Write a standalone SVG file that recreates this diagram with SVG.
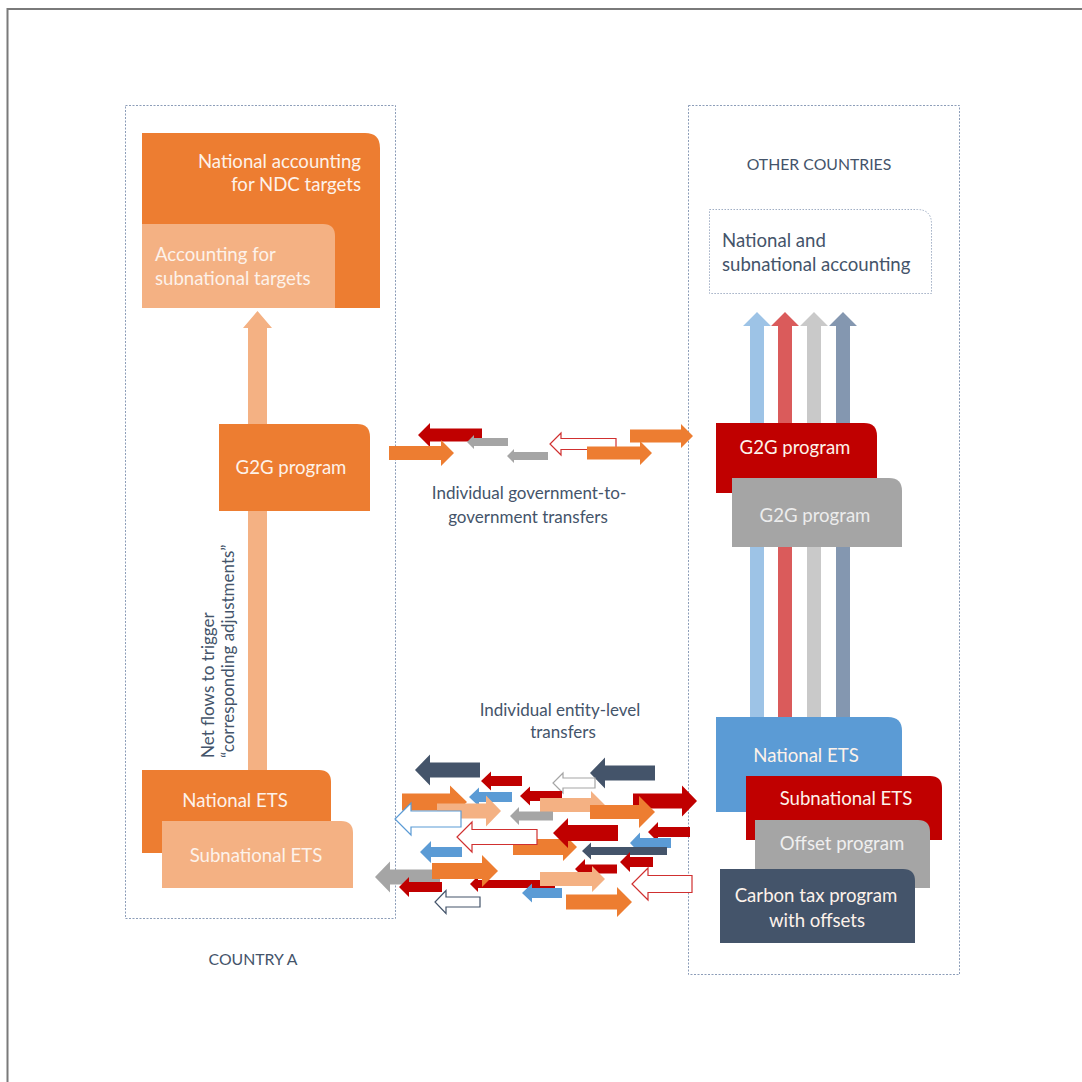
<svg xmlns="http://www.w3.org/2000/svg" width="1082" height="1082" viewBox="0 0 1082 1082">
<style>
.t{font-family:Lato,"Open Sans","Liberation Sans",sans-serif;}
.lbl{font-size:18.6px;fill:#fdf2ea;}
.ann{font-size:17px;fill:#44546A;}
.cap{font-size:15.8px;fill:#44546A;}
.dash{fill:none;stroke:#8C9DB8;stroke-width:1;stroke-dasharray:2 1.5;}
.or{fill:#ED7D31;}
.lo{fill:#F4B183;}
.rd{fill:#C00000;}
.gy{fill:#A5A5A5;}
.sl{fill:#44546A;}
.bl{fill:#5B9BD5;}
.oRd{fill:#fff;stroke:#D03030;stroke-width:1.2;}
.oBl{fill:#fff;stroke:#5B9BD5;stroke-width:1.2;}
.oGy{fill:#fff;stroke:#A5A5A5;stroke-width:1.2;}
.oSl{fill:#fff;stroke:#44546A;stroke-width:1.2;}
</style>
<rect width="1082" height="1082" fill="#fff"/>
<path d="M7.5 1082 V9 H1082" fill="none" stroke="#7a7a7a" stroke-width="2"/>

<!-- containers -->
<g id="countryA">
<rect class="dash" x="125.5" y="105.5" width="270" height="813"/>
<text class="t cap" x="253" y="965" text-anchor="middle">COUNTRY A</text>
</g>
<g id="otherCountries">
<rect class="dash" x="688.5" y="105.5" width="271" height="869"/>
<text class="t cap" x="819" y="170" text-anchor="middle">OTHER COUNTRIES</text>
</g>

<!-- connectors (vertical flows) -->
<g id="connectors">
<path fill="#F4B183" d="M248 770 V328 H243 L257.5 311 L272 328 H267 V770 Z"/>
<path fill="#9DC3E6" d="M750 717 V326 H743 L757 312 L771 326 H764 V717 Z"/>
<path fill="#DA5B5B" d="M778 717 V326 H771 L785 312 L799 326 H792 V717 Z"/>
<path fill="#C9C9C9" d="M807 717 V326 H800 L814 312 L828 326 H821 V717 Z"/>
<path fill="#8497B0" d="M836 717 V326 H829 L843 312 L857 326 H850 V717 Z"/>
</g>

<!-- Country A nodes -->
<g id="nationalAccounting">
<path class="or" d="M142 133 H365 Q380 133 380 148 V308 H142 Z"/>
<text class="t lbl" x="361" y="168" text-anchor="end">National accounting</text>
<text class="t lbl" x="361" y="191" text-anchor="end">for NDC targets</text>
</g>
<g id="subnationalAccounting">
<path class="lo" d="M142 224 H323 Q335 224 335 236 V308 H142 Z"/>
<text class="t lbl" x="155" y="261">Accounting for</text>
<text class="t lbl" x="155" y="285">subnational targets</text>
</g>
<g id="g2gA">
<path class="or" d="M219 424 H357 Q370 424 370 437 V511 H219 Z"/>
<text class="t lbl" x="291" y="474" text-anchor="middle">G2G program</text>
</g>
<g id="netFlowsLabel">
<text class="t ann" transform="translate(214,758) rotate(-90)">Net flows to trigger</text>
<text class="t ann" transform="translate(234,758) rotate(-90)">“corresponding adjustments”</text>
</g>
<g id="nationalEtsA">
<path class="or" d="M142 770 H319 Q331 770 331 782 V853 H142 Z"/>
<text class="t lbl" x="235" y="807" text-anchor="middle">National ETS</text>
</g>
<g id="subnationalEtsA">
<path class="lo" d="M162 821 H341 Q353 821 353 833 V888 H162 Z"/>
<text class="t lbl" x="256" y="862" text-anchor="middle">Subnational ETS</text>
</g>

<!-- Other countries nodes -->
<g id="otherAccounting">
<path d="M709.5 209.5 H917 Q931.5 209.5 931.5 224 V293.5 H709.5 Z" fill="#fff" stroke="#A0AEC4" stroke-width="1" stroke-dasharray="1.5 1.5"/>
<text class="t ann" x="722" y="247" style="font-size:18.6px">National and</text>
<text class="t ann" x="722" y="271" style="font-size:18.6px">subnational accounting</text>
</g>
<g id="g2gRed">
<path class="rd" d="M716 423 H864 Q877 423 877 436 V493 H716 Z"/>
<text class="t lbl" x="795" y="454" text-anchor="middle">G2G program</text>
</g>
<g id="g2gGray">
<path class="gy" d="M732 478 H889 Q902 478 902 491 V547 H732 Z"/>
<text class="t lbl" x="815" y="522" text-anchor="middle" style="fill:#ececec">G2G program</text>
</g>
<g id="nationalEtsB">
<path class="bl" d="M716 717 H888 Q902 717 902 731 V812 H716 Z"/>
<text class="t lbl" x="806" y="762" text-anchor="middle">National ETS</text>
</g>
<g id="subnationalEtsB">
<path class="rd" d="M746 776 H930 Q942 776 942 788 V840 H746 Z"/>
<text class="t lbl" x="846" y="805" text-anchor="middle">Subnational ETS</text>
</g>
<g id="offsetProgram">
<path class="gy" d="M755 820 H918 Q930 820 930 832 V888 H755 Z"/>
<text class="t lbl" x="842" y="850" text-anchor="middle" style="fill:#efefef">Offset program</text>
</g>
<g id="carbonTax">
<path class="sl" d="M720 869 H903 Q915 869 915 881 V943 H720 Z"/>
<text class="t lbl" x="816" y="902" text-anchor="middle">Carbon tax program</text>
<text class="t lbl" x="817" y="927" text-anchor="middle">with offsets</text>
</g>

<!-- G2G transfers -->
<g id="g2gTransfers">
<polygon class="rd" points="482,428.5 430,428.5 430,423 418,435 430,447 430,441.5 482,441.5"/>
<polygon class="gy" points="508,438 474,438 474,435 467,442 474,449 474,446 508,446"/>
<polygon class="or" points="389,446 441,446 441,440 454,453 441,466 441,460 389,460"/>
<polygon class="gy" points="548,452 514,452 514,449 507,456 514,463 514,460 548,460"/>
<polygon class="oRd" points="616,438.5 561,438.5 561,433 550,444 561,455 561,449.5 616,449.5"/>
<polygon class="or" points="587,446.5 640,446.5 640,441 652,453 640,465 640,459.5 587,459.5"/>
<polygon class="or" points="630,429.5 681,429.5 681,424 693,436 681,448 681,442.5 630,442.5"/>
<text class="t ann" x="529" y="499" text-anchor="middle">Individual government-to-</text>
<text class="t ann" x="528" y="523" text-anchor="middle">government transfers</text>
</g>

<!-- entity-level transfers -->
<g id="entityTransfers">
<text class="t ann" x="560" y="716" text-anchor="middle">Individual entity-level</text>
<text class="t ann" x="563" y="738" text-anchor="middle">transfers</text>
<polygon class="sl" points="480,762.5 430,762.5 430,754.5 415,770 430,785.5 430,777.5 480,777.5"/>
<polygon class="rd" points="522,776 491,776 491,771.5 481,781 491,790.5 491,786 522,786"/>
<polygon class="sl" points="655,765.5 605,765.5 605,757.5 590,773 605,788.5 605,780.5 655,780.5"/>
<polygon class="oGy" points="595,778 563,778 563,773 553,783 563,793 563,788 595,788"/>
<polygon class="rd" points="562,791 530,791 530,786.5 520,796 530,805.5 530,801 562,801"/>
<polygon class="bl" points="512,792 479,792 479,787.5 469,797 479,806.5 479,802 512,802"/>
<polygon class="or" points="402,793.5 450,793.5 450,785.5 467,802 450,818.5 450,810.5 402,810.5"/>
<polygon class="lo" points="437,803.5 486,803.5 486,795.5 501,811 486,826.5 486,818.5 437,818.5"/>
<polygon class="oBl" points="461,811 411,811 411,803 395,819 411,835 411,827 461,827"/>
<polygon class="rd" points="633,793.5 682,793.5 682,785.5 697,801 682,816.5 682,808.5 633,808.5"/>
<polygon class="lo" points="540,798 591,798 591,791 605,805 591,819 591,812 540,812"/>
<polygon class="or" points="590,805 639,805 639,796 655,812 639,828 639,819 590,819"/>
<polygon class="gy" points="553,811.5 519,811.5 519,807 510,816 519,825 519,820.5 553,820.5"/>
<polygon class="or" points="513,839 563,839 563,833 577,847 563,861 563,855 513,855"/>
<polygon class="oRd" points="537,829.5 472,829.5 472,822 457,837 472,852 472,844.5 537,844.5"/>
<polygon class="rd" points="618,825 568,825 568,818 553,833 568,848 568,841 618,841"/>
<polygon class="rd" points="690,827 658,827 658,822 648,832 658,842 658,837 690,837"/>
<polygon class="bl" points="671,838 640,838 640,832.5 630,843 640,853.5 640,848 671,848"/>
<polygon class="sl" points="667,847 591,847 591,842.5 582,851 591,859.5 591,855 667,855"/>
<polygon class="bl" points="462,847 431,847 431,841 420,852 431,863 431,857 462,857"/>
<polygon class="rd" points="653,857 630,857 630,852 620,862 630,872 630,867 653,867"/>
<polygon class="rd" points="617,864.5 585,864.5 585,859 575,869 585,879 585,873.5 617,873.5"/>
<polygon class="gy" points="440,869.5 390,869.5 390,861.5 375,877 390,892.5 390,884.5 440,884.5"/>
<polygon class="rd" points="555,880 478,880 478,876 470,884 478,892 478,888 555,888"/>
<polygon class="or" points="432,863 482,863 482,855 498,871 482,887 482,879 432,879"/>
<polygon class="lo" points="540,872 592,872 592,866 605,879 592,892 592,886 540,886"/>
<polygon class="rd" points="442,882 409,882 409,877 399,887 409,897 409,892 442,892"/>
<polygon class="oRd" points="692,875.5 648,875.5 648,868 632,884 648,900 648,892.5 692,892.5"/>
<polygon class="bl" points="562,888 532,888 532,883.5 522,893 532,902.5 532,898 562,898"/>
<polygon class="oSl" points="480,897 446,897 446,890.5 435,902 446,913.5 446,907 480,907"/>
<polygon class="or" points="566,894.5 617,894.5 617,887 632,902 617,917 617,909.5 566,909.5"/>
</g>
</svg>
